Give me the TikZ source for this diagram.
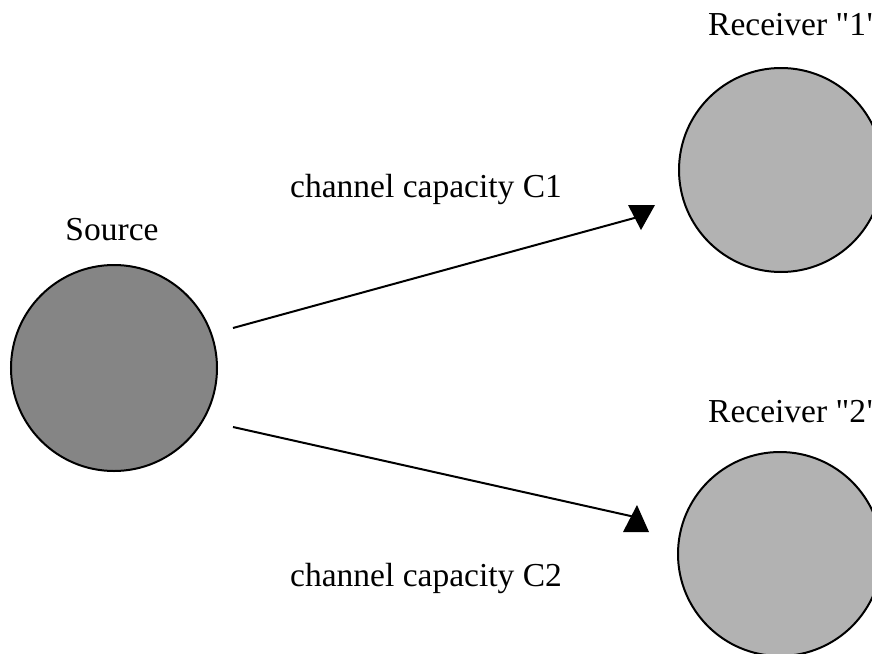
\documentclass[tikz,border=0pt]{standalone}
\usepackage{fontspec}
\newfontfamily\tnr{Liberation Serif}
\begin{document}
\begin{tikzpicture}[x=1pt,y=-1pt,
  lbl/.style={inner sep=0pt, font=\tnr\fontsize{33.5}{38}\selectfont},
  disc/.style={circle, draw=black, line width=2pt, minimum size=#1, inner sep=0pt},
  conn/.style={line width=2pt},
  tip/.style={fill=black}]
\useasboundingbox (0,0) rectangle (872,653);
\node[disc=206pt, fill=black!48] (src) at (114,368) {};
\node[disc=204pt, fill=black!30] (r1) at (781,170) {};
\node[disc=204pt, fill=black!30] (r2) at (780,554) {};
\node[lbl, anchor=base] (srcl) at (112,240) {Source};
\node[lbl, anchor=base west] (r1l) at (708,35) {Receiver "1"};
\node[lbl, anchor=base west] (r2l) at (708,422) {Receiver "2"};
\node[lbl, anchor=base west] (c1) at (290,197) {channel capacity C1};
\node[lbl, anchor=base west] (c2) at (290,586) {channel capacity C2};
\coordinate (s1) at (233,328);
\coordinate (e1) at (638,217);
\coordinate (s2) at (233,427);
\coordinate (e2) at (635,517);
\draw[conn] (s1) -- (e1);
\draw[conn] (s2) -- (e2);
\fill[tip] (628,205) -- (655,205) -- (641,230) -- cycle;
\fill[tip] (623,532) -- (649,532) -- (637,505) -- cycle;
\end{tikzpicture}
\end{document}
